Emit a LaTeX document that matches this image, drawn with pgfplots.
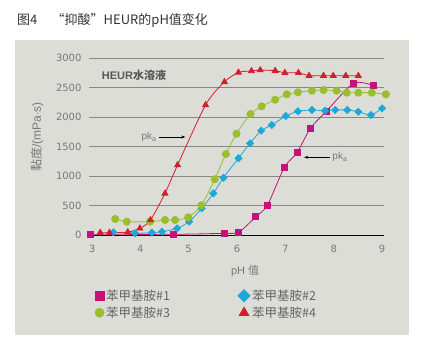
\documentclass[border=0pt]{standalone}
\usepackage{pgfplots}
\pgfplotsset{compat=1.18}
\usepackage{fontspec}
\setmainfont{Liberation Sans}
\newfontfamily\cjk{Noto Sans CJK SC}
\newfontfamily\tickfont{DejaVu Sans}
\usetikzlibrary{arrows.meta}
\definecolor{cmag}{RGB}{198,16,122}
\definecolor{ccyan}{RGB}{30,168,216}
\definecolor{cgreen}{RGB}{155,190,45}
\definecolor{cred}{RGB}{210,30,45}
\definecolor{bg}{RGB}{221,221,216}
\definecolor{gridc}{RGB}{135,135,135}
\definecolor{tgray}{RGB}{120,120,120}
\definecolor{lgray}{RGB}{100,100,100}
\begin{document}
\begin{tikzpicture}
\path (0pt,0pt) rectangle (425pt,346pt);
\fill[bg] (15pt,11pt) rectangle (409pt,306pt);
\node[anchor=west, font=\cjk\fontsize{13}{15}\selectfont, text=black!80, inner sep=0pt] at (17pt,326pt) {图4\hspace{1.1em}“抑酸”HEUR的pH值变化};
\begin{axis}[
  at={(89pt,110.7pt)}, anchor=south west,
  scale only axis, width=295pt, height=177pt,
  xmin=2.938, xmax=9.041, ymin=0, ymax=3000,
  clip=false,
  axis line style={draw=none},
  major tick length=0pt,
  xtick={3,4,5,6,7,8,9},
  ytick={500,1000,1500,2000,2500,3000},
  extra y ticks={0},
  extra y tick style={grid=major, major grid style={black, line width=0.9pt}},
  ymajorgrids, major grid style={gridc, line width=0.9pt},
  /pgf/number format/assume math mode=true,
  /pgf/number format/set thousands separator={},
  tick label style={font=\tickfont\fontsize{10}{12}\selectfont, text=tgray},
  yticklabel style={xshift=-4pt},
  xticklabel style={yshift=-6pt},
  ylabel={\cjk 黏度}/(mPa$\cdot$s),
  ylabel style={at={(axis description cs:-0.176,0.555)}, anchor=center, font=\fontsize{12}{14}\selectfont, text=tgray},
  xlabel={pH {\cjk 值}},
  xlabel style={at={(axis description cs:0.529,-0.202)}, anchor=center, font=\fontsize{11}{13}\selectfont, text=tgray},
  legend style={draw=none, fill=none, at={(axis description cs:0.02,-0.295)}, anchor=north west,
    font=\cjk\fontsize{12.5}{14}\selectfont, text=lgray, inner sep=0pt,
    /tikz/every even column/.append style={column sep=66pt}, row sep=1pt},
  legend columns=2,
  legend cell align=left,
  legend image code/.code={\draw[#1] plot coordinates {(0.3em,0pt)};},
  every axis plot/.append style={line width=0.8pt, smooth, tension=0.45},
]
\addplot[cmag, mark=square*, mark size=3pt, legend image post style={mark size=4.5pt}] coordinates {
(2.96,17) (4.68,17) (5.73,34) (6.03,51) (6.39,315) (6.63,513) (6.98,1152) (7.24,1400) (7.52,1814) (7.84,2095) (8.41,2576) (8.83,2536)};
\addlegendentry{苯甲基胺\#1}
\addplot[ccyan, mark=square*, mark size=2.5pt, mark options={rotate=45}, legend image post style={mark size=4.3pt}] coordinates {
(3.44,50) (3.89,34) (4.24,45) (4.45,61) (4.76,118) (5.01,231) (5.27,457) (5.51,711) (5.72,976) (6.03,1305) (6.27,1559) (6.50,1773) (6.72,1870) (7.01,2022) (7.26,2102) (7.55,2124) (7.82,2112) (8.03,2124) (8.28,2124) (8.51,2095) (8.77,2039) (9.00,2152)};
\addlegendentry{苯甲基胺\#2}
\addplot[cgreen, mark=*, mark size=3.6pt, legend image post style={mark size=4.5pt}] coordinates {
(3.48,276) (3.72,231) (4.20,231) (4.51,260) (4.72,260) (4.99,305) (5.26,508) (5.54,950) (5.77,1378) (5.99,1722) (6.28,2056) (6.51,2186) (6.79,2298) (7.03,2390) (7.26,2424) (7.55,2451) (7.79,2463) (8.06,2451) (8.27,2417) (8.51,2417) (8.79,2417) (9.08,2390)};
\addlegendentry{苯甲基胺\#3}
\addplot[cred, mark=triangle*, mark size=3.4pt, legend image post style={mark size=5.5pt}] coordinates {
(3.17,45) (3.36,45) (3.74,55) (3.99,118) (4.21,260) (4.51,710) (4.77,1190) (5.35,2210) (5.74,2600) (6.03,2760) (6.30,2785) (6.48,2800) (6.79,2790) (6.99,2755) (7.27,2755) (7.49,2705) (7.79,2705) (7.99,2705) (8.25,2705) (8.51,2705)};
\addlegendentry{苯甲基胺\#4}
\node[font=\bfseries\fontsize{11}{13}\selectfont, text=black!65] at (axis cs:3.87,2712) {HEUR{\cjk 水溶液}};
\draw[-{Stealth[length=4pt]}, black, line width=0.6pt] (axis cs:4.39,1666) -- (axis cs:4.93,1666);
\node[font=\fontsize{10}{12}\selectfont, text=tgray, anchor=east, inner sep=1pt] at (axis cs:4.36,1666) {pk\textsubscript{a}};
\draw[-{Stealth[length=4pt]}, black, line width=0.6pt] (axis cs:7.92,1322) -- (axis cs:7.39,1322);
\node[font=\fontsize{10}{12}\selectfont, text=tgray, anchor=west, inner sep=1pt] at (axis cs:7.95,1322) {pk\textsubscript{a}};
\end{axis}
\end{tikzpicture}
\end{document}
